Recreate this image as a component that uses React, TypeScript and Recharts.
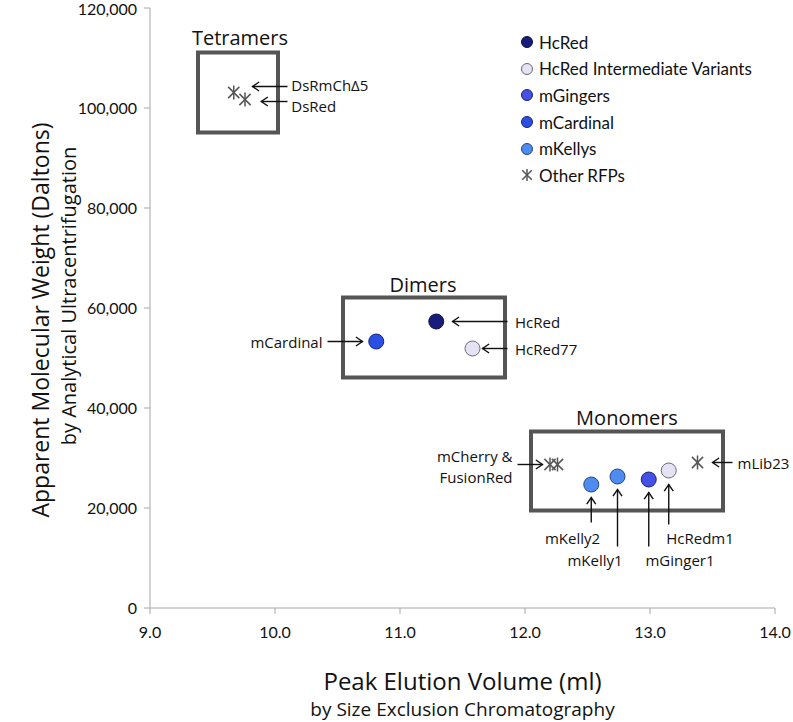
import { ScatterChart, Scatter, XAxis, YAxis, ReferenceArea, ReferenceLine, ReferenceDot, Label } from 'recharts'

// axis ticks
const xTicks = [9, 10, 11, 12, 13, 14]
const yTicks = [0, 20000, 40000, 60000, 80000, 100000, 120000]

// series values
const hcRed = [{ name: 'HcRed', x: 11.29, y: 57300 }]
const hcRedIntermediate = [
  { name: 'HcRed77', x: 11.58, y: 51900 },
  { name: 'HcRedm1', x: 13.15, y: 27500 },
]
const mGingers = [{ name: 'mGinger1', x: 12.99, y: 25700 }]
const mCardinal = [{ name: 'mCardinal', x: 10.81, y: 53300 }]
const mKellys = [
  { name: 'mKelly2', x: 12.53, y: 24700 },
  { name: 'mKelly1', x: 12.74, y: 26300 },
]
const otherRfps = [
  { name: 'DsRmChΔ5', x: 9.67, y: 103100 },
  { name: 'DsRed', x: 9.76, y: 101700 },
  { name: 'mCherry', x: 12.2, y: 28700 },
  { name: 'FusionRed', x: 12.26, y: 28700 },
  { name: 'mLib23', x: 13.38, y: 29100 },
]

// oligomer state boxes (data units)
const groups = [
  { name: 'Tetramers', x1: 9.384, x2: 10.024, y1: 95100, y2: 111100, lx: 9.72, ly: 114100 },
  { name: 'Dimers', x1: 10.544, x2: 11.84, y1: 46100, y2: 62100, lx: 11.184, ly: 64700 },
  { name: 'Monomers', x1: 12.048, x2: 13.584, y1: 19500, y2: 35300, lx: 12.816, ly: 38200 },
]

// callout texts and arrows (data units)
const notes = [
  { text: 'DsRmChΔ5', x: 10.13, y: 104700, anchor: 'start' },
  { text: 'DsRed', x: 10.13, y: 100500, anchor: 'start' },
  { text: 'HcRed', x: 11.92, y: 57300, anchor: 'start' },
  { text: 'HcRed77', x: 11.92, y: 51900, anchor: 'start' },
  { text: 'mCardinal', x: 10.38, y: 53300, anchor: 'end' },
  { text: 'mCherry &', x: 11.9, y: 30500, anchor: 'end' },
  { text: 'FusionRed', x: 11.9, y: 26300, anchor: 'end' },
  { text: 'mKelly2', x: 12.38, y: 14100, anchor: 'middle' },
  { text: 'mKelly1', x: 12.56, y: 9700, anchor: 'middle' },
  { text: 'mGinger1', x: 13.24, y: 9700, anchor: 'middle' },
  { text: 'HcRedm1', x: 13.4, y: 14100, anchor: 'middle' },
  { text: 'mLib23', x: 13.7, y: 29100, anchor: 'start' },
]

const arrows = [
  { x1: 10.1, y1: 104300, x2: 9.82, y2: 104300 },
  { x1: 10.1, y1: 101300, x2: 9.89, y2: 101300 },
  { x1: 11.86, y1: 57300, x2: 11.42, y2: 57300 },
  { x1: 11.86, y1: 51900, x2: 11.66, y2: 51900 },
  { x1: 10.42, y1: 53300, x2: 10.7, y2: 53300 },
  { x1: 11.94, y1: 28700, x2: 12.14, y2: 28700 },
  { x1: 12.53, y1: 17100, x2: 12.53, y2: 22100 },
  { x1: 12.74, y1: 12300, x2: 12.74, y2: 23700 },
  { x1: 12.99, y1: 12300, x2: 12.99, y2: 23100 },
  { x1: 13.15, y1: 16700, x2: 13.15, y2: 24700 },
  { x1: 13.66, y1: 29100, x2: 13.5, y2: 29100 },
]

const series = [
  { name: 'HcRed', data: hcRed, fill: '#181d7c', stroke: '#0c0f40', star: false },
  { name: 'HcRed Intermediate Variants', data: hcRedIntermediate, fill: '#e4e2f3', stroke: '#6a6a7a', star: false },
  { name: 'mGingers', data: mGingers, fill: '#4550e4', stroke: '#1c2170', star: false },
  { name: 'mCardinal', data: mCardinal, fill: '#2a4fe2', stroke: '#132676', star: false },
  { name: 'mKellys', data: mKellys, fill: '#4f8cf0', stroke: '#23447a', star: false },
  { name: 'Other RFPs', data: otherRfps, fill: 'none', stroke: '#555', star: true },
]

const tickFont = 'Lato, "Open Sans", sans-serif'
const noteFont = '"Open Sans", "Noto Sans", sans-serif'

function Star({ cx, cy, color, size = 7 }: any) {
  const d = size * 0.8
  return (
    <g stroke={color} strokeWidth={1.5} fill="none">
      <line x1={cx - d} y1={cy - d} x2={cx + d} y2={cy + d} />
      <line x1={cx - d} y1={cy + d} x2={cx + d} y2={cy - d} />
      <line x1={cx} y1={cy - size} x2={cx} y2={cy + size} />
    </g>
  )
}

function makeShape(s: any) {
  return (props: any) => {
    const { cx, cy } = props
    if (s.star) return <Star cx={cx} cy={cy} color={s.stroke} />
    return <circle cx={cx} cy={cy} r={7.5} fill={s.fill} stroke={s.stroke} strokeWidth={1} />
  }
}

function Arrow(props: any) {
  const { x1, y1, x2, y2 } = props
  const a = Math.atan2(y2 - y1, x2 - x1)
  const len = 8
  const spread = 0.6
  const p1 = `${x2 - len * Math.cos(a - spread)},${y2 - len * Math.sin(a - spread)}`
  const p2 = `${x2 - len * Math.cos(a + spread)},${y2 - len * Math.sin(a + spread)}`
  return (
    <g stroke="#111" strokeWidth={1.4} fill="none">
      <line x1={x1} y1={y1} x2={x2} y2={y2} />
      <polyline points={`${p1} ${x2},${y2} ${p2}`} />
    </g>
  )
}

function noteShape(text: string, anchor: string, size: number) {
  return (props: any) => (
    <text
      x={props.cx}
      y={props.cy}
      textAnchor={anchor}
      dominantBaseline="central"
      fontFamily={noteFont}
      fontSize={size}
      fill="#111"
    >
      {text}
    </text>
  )
}

function XTitle(props: any) {
  const { x, y, width } = props.viewBox
  const cx = x + width / 2
  return (
    <g fontFamily={noteFont} fill="#111" textAnchor="middle">
      <text x={cx} y={y + 72} dominantBaseline="central" fontSize={24}>Peak Elution Volume (ml)</text>
      <text x={cx} y={y + 101} dominantBaseline="central" fontSize={19}>by Size Exclusion Chromatography</text>
    </g>
  )
}

function YTitle() {
  return (
    <g fontFamily={noteFont} fill="#111" textAnchor="middle">
      <text x={40} y={320} transform="rotate(-90 40 320)" dominantBaseline="central" fontSize={23}>
        Apparent Molecular Weight (Daltons)
      </text>
      <text x={68} y={296} transform="rotate(-90 68 296)" dominantBaseline="central" fontSize={20}>
        by Analytical Ultracentrifugation
      </text>
    </g>
  )
}

function LegendBox() {
  return (
    <div style={{ position: 'absolute', left: 519, top: 29, fontFamily: tickFont, fontSize: 17, color: '#111' }}>
      {series.map((s) => (
        <div key={s.name} style={{ display: 'flex', alignItems: 'center', height: 26.6 }}>
          <svg width={16} height={16} style={{ marginRight: 4 }}>
            {s.star ? (
              <Star cx={8} cy={8} color={s.stroke} size={6} />
            ) : (
              <circle cx={8} cy={8} r={5.5} fill={s.fill} stroke={s.stroke} strokeWidth={1} />
            )}
          </svg>
          <span>{s.name}</span>
        </div>
      ))}
    </div>
  )
}

export default function App() {
  return (
    <div style={{ position: 'absolute', left: 0, top: 0, width: 793, height: 722, background: '#fff' }}>
      <ScatterChart width={793} height={722} margin={{ top: 8, right: 18, bottom: 0, left: 0 }}>
        <XAxis
          type="number"
          dataKey="x"
          domain={[9, 14]}
          ticks={xTicks}
          height={114}
          stroke="#a6a6a6"
          tickSize={6}
          tickMargin={13}
          tick={{ fill: '#111', fontSize: 16, fontFamily: tickFont }}
          tickFormatter={(v: number) => v.toFixed(1)}
        >
          <Label content={XTitle} />
        </XAxis>
        <YAxis
          type="number"
          dataKey="y"
          domain={[0, 120000]}
          ticks={yTicks}
          width={150}
          stroke="#a6a6a6"
          tickSize={6}
          tickMargin={7}
          tick={{ fill: '#111', fontSize: 16, fontFamily: tickFont }}
          tickFormatter={(v: number) => v.toLocaleString('en-US')}
        >
          <Label content={YTitle} />
        </YAxis>

        {groups.map((g) => (
          <ReferenceArea
            key={g.name}
            x1={g.x1}
            x2={g.x2}
            y1={g.y1}
            y2={g.y2}
            fill="none"
            fillOpacity={0}
            stroke="#555"
            strokeWidth={4}
          />
        ))}
        {groups.map((g) => (
          <ReferenceDot key={'l' + g.name} x={g.lx} y={g.ly} r={0} shape={noteShape(g.name, 'middle', 20)} />
        ))}

        {arrows.map((a, i) => (
          <ReferenceLine
            key={'a' + i}
            segment={[
              { x: a.x1, y: a.y1 },
              { x: a.x2, y: a.y2 },
            ]}
            shape={Arrow}
          />
        ))}
        {notes.map((n) => (
          <ReferenceDot key={'n' + n.text} x={n.x} y={n.y} r={0} shape={noteShape(n.text, n.anchor, 15)} />
        ))}

        {series.map((s) => (
          <Scatter key={s.name} name={s.name} data={s.data} shape={makeShape(s)} isAnimationActive={false} />
        ))}
      </ScatterChart>
      <LegendBox />
    </div>
  )
}
